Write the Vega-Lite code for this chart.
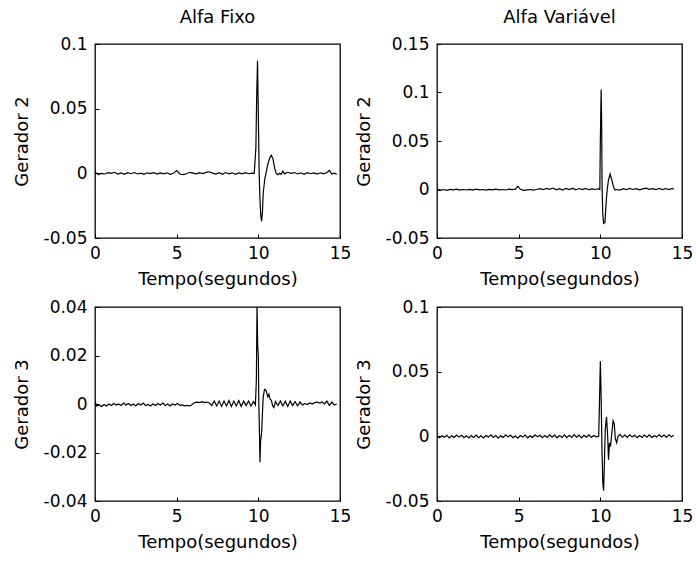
{
  "$schema": "https://vega.github.io/schema/vega-lite/v6.json",
  "background": "white",
  "padding": {"left": 12, "top": 8, "right": 5, "bottom": 5},
  "config": {
    "locale": {"number": {"decimal": ".", "thousands": ",", "grouping": [3], "currency": ["$", ""], "minus": "-"}},
    "view": {"stroke": "black", "strokeWidth": 1.3},
    "font": "DejaVu Sans",
    "axis": {"grid": false, "domain": false, "ticks": true, "tickColor": "black", "tickSize": -4, "labelFont": "DejaVu Sans", "labelFontSize": 17, "labelColor": "black", "titleFont": "DejaVu Sans", "titleFontSize": 18, "titleFontWeight": "normal", "titleColor": "black", "labelFlush": false, "labelOverlap": false, "format": ".6~g"},
    "axisX": {"labelPadding": 11.5, "titlePadding": 8.5},
    "axisY": {"labelPadding": 12, "titlePadding": 12},
    "title": {"font": "DejaVu Sans", "fontSize": 18, "fontWeight": "normal", "color": "black", "offset": 8, "anchor": "middle"}
  },
  "datasets": {
    "g2f": [
      {"t":0.0,"v":0.001},{"t":0.2,"v":-0.001},{"t":0.4,"v":0.0},{"t":0.6,"v":-0.0005},{"t":0.8,"v":0.0005},{"t":1.0,"v":0.0},{"t":1.2,"v":0.0008},{"t":1.4,"v":-0.0005},{"t":1.6,"v":0.0003},{"t":1.8,"v":-0.0008},{"t":2.0,"v":0.0005},{"t":2.2,"v":-0.0003},{"t":2.4,"v":0.0006},{"t":2.6,"v":-0.0005},{"t":2.8,"v":0.0002},{"t":3.0,"v":-0.0007},{"t":3.2,"v":0.0004},{"t":3.4,"v":-0.0002},{"t":3.6,"v":0.0005},{"t":3.8,"v":-0.0006},{"t":4.0,"v":0.0003},{"t":4.2,"v":-0.0004},{"t":4.4,"v":0.0004},{"t":4.6,"v":-0.0008},{"t":4.8,"v":0.0},{"t":5.0,"v":0.0022},{"t":5.2,"v":-0.0005},{"t":5.4,"v":-0.001},{"t":5.6,"v":-0.0003},{"t":5.8,"v":0.0008},{"t":6.0,"v":0.0002},{"t":6.2,"v":-0.0004},{"t":6.4,"v":0.0005},{"t":6.6,"v":-0.0002},{"t":6.8,"v":0.0007},{"t":7.0,"v":0.0012},{"t":7.2,"v":0.0002},{"t":7.4,"v":-0.0006},{"t":7.6,"v":0.0005},{"t":7.8,"v":-0.0008},{"t":8.0,"v":0.0006},{"t":8.2,"v":-0.0004},{"t":8.4,"v":0.0004},{"t":8.6,"v":-0.0007},{"t":8.8,"v":0.0003},{"t":9.0,"v":-0.0004},{"t":9.2,"v":0.0005},{"t":9.4,"v":-0.0003},{"t":9.6,"v":0.0002},{"t":9.75,"v":0.0},{"t":9.85,"v":0.02},{"t":9.9,"v":0.06},{"t":9.95,"v":0.087},{"t":10.0,"v":0.045},{"t":10.05,"v":0.0},{"t":10.1,"v":-0.02},{"t":10.15,"v":-0.033},{"t":10.2,"v":-0.037},{"t":10.25,"v":-0.03},{"t":10.3,"v":-0.015},{"t":10.4,"v":-0.004},{"t":10.5,"v":0.002},{"t":10.6,"v":0.008},{"t":10.7,"v":0.012},{"t":10.8,"v":0.014},{"t":10.9,"v":0.011},{"t":11.0,"v":0.004},{"t":11.1,"v":0.0},{"t":11.2,"v":-0.001},{"t":11.3,"v":0.0},{"t":11.4,"v":-0.0008},{"t":11.5,"v":0.0018},{"t":11.6,"v":-0.0004},{"t":11.8,"v":0.0008},{"t":12.0,"v":0.0},{"t":12.2,"v":0.0006},{"t":12.4,"v":-0.0005},{"t":12.6,"v":0.0004},{"t":12.8,"v":-0.0007},{"t":13.0,"v":0.0005},{"t":13.2,"v":-0.0003},{"t":13.4,"v":0.0003},{"t":13.6,"v":-0.0006},{"t":13.8,"v":0.0004},{"t":14.0,"v":-0.0004},{"t":14.2,"v":0.0006},{"t":14.35,"v":0.0022},{"t":14.5,"v":-0.0006},{"t":14.65,"v":0.0002},{"t":14.8,"v":-0.0006}
    ],
    "g2v": [
      {"t":0.0,"v":0.0005},{"t":0.2,"v":-0.0005},{"t":0.4,"v":0.0},{"t":0.6,"v":-0.0008},{"t":0.8,"v":0.0002},{"t":1.0,"v":-0.0004},{"t":1.2,"v":0.0003},{"t":1.4,"v":-0.0006},{"t":1.6,"v":0.0},{"t":1.8,"v":-0.0005},{"t":2.0,"v":0.0002},{"t":2.2,"v":-0.0006},{"t":2.4,"v":0.0003},{"t":2.6,"v":-0.0004},{"t":2.8,"v":0.0},{"t":3.0,"v":-0.0006},{"t":3.2,"v":0.0002},{"t":3.4,"v":-0.0004},{"t":3.6,"v":0.0004},{"t":3.8,"v":-0.0003},{"t":4.0,"v":0.0},{"t":4.2,"v":-0.0005},{"t":4.4,"v":0.0003},{"t":4.6,"v":-0.0002},{"t":4.8,"v":0.0004},{"t":4.95,"v":0.0035},{"t":5.1,"v":0.0002},{"t":5.3,"v":-0.0008},{"t":5.5,"v":-0.0004},{"t":5.7,"v":0.0},{"t":5.9,"v":-0.0006},{"t":6.1,"v":0.0},{"t":6.3,"v":0.0008},{"t":6.5,"v":-0.0002},{"t":6.7,"v":0.0012},{"t":6.9,"v":0.0002},{"t":7.1,"v":0.0015},{"t":7.3,"v":-0.0004},{"t":7.5,"v":0.0008},{"t":7.7,"v":-0.0006},{"t":7.9,"v":0.0012},{"t":8.1,"v":0.0},{"t":8.3,"v":0.0014},{"t":8.5,"v":-0.0004},{"t":8.7,"v":0.001},{"t":8.9,"v":0.0},{"t":9.1,"v":0.0012},{"t":9.3,"v":-0.0002},{"t":9.5,"v":0.0006},{"t":9.7,"v":0.0},{"t":9.9,"v":0.0008},{"t":9.97,"v":0.0},{"t":10.0,"v":0.05},{"t":10.05,"v":0.103},{"t":10.08,"v":0.07},{"t":10.11,"v":0.0},{"t":10.15,"v":-0.025},{"t":10.2,"v":-0.035},{"t":10.28,"v":-0.034},{"t":10.35,"v":-0.015},{"t":10.42,"v":0.0},{"t":10.5,"v":0.01},{"t":10.6,"v":0.016},{"t":10.7,"v":0.01},{"t":10.8,"v":0.003},{"t":10.9,"v":-0.0005},{"t":11.0,"v":0.0},{"t":11.2,"v":-0.0006},{"t":11.4,"v":0.0008},{"t":11.6,"v":-0.0002},{"t":11.8,"v":0.0012},{"t":12.0,"v":0.0},{"t":12.2,"v":0.0008},{"t":12.4,"v":-0.0004},{"t":12.6,"v":0.0006},{"t":12.8,"v":0.0014},{"t":13.0,"v":0.0002},{"t":13.2,"v":0.0008},{"t":13.4,"v":-0.0002},{"t":13.6,"v":0.0012},{"t":13.8,"v":0.0},{"t":14.0,"v":0.001},{"t":14.2,"v":0.0},{"t":14.4,"v":0.0012},{"t":14.5,"v":0.0002}
    ],
    "g3f": [
      {"t":0.0,"v":0.0012},{"t":0.1,"v":-0.0008},{"t":0.25,"v":-0.0004},{"t":0.4,"v":-0.001},{"t":0.55,"v":-0.0002},{"t":0.7,"v":-0.0008},{"t":0.85,"v":0.0},{"t":1.0,"v":-0.0006},{"t":1.15,"v":0.0002},{"t":1.3,"v":-0.0004},{"t":1.45,"v":0.0},{"t":1.6,"v":-0.0006},{"t":1.75,"v":0.0004},{"t":1.9,"v":-0.0004},{"t":2.05,"v":0.0002},{"t":2.2,"v":-0.0006},{"t":2.35,"v":0.0},{"t":2.5,"v":-0.0008},{"t":2.65,"v":0.0002},{"t":2.8,"v":-0.0004},{"t":2.95,"v":0.0004},{"t":3.1,"v":-0.0006},{"t":3.25,"v":-0.0002},{"t":3.4,"v":-0.0008},{"t":3.55,"v":0.0},{"t":3.7,"v":-0.0006},{"t":3.85,"v":0.0002},{"t":4.0,"v":-0.0004},{"t":4.15,"v":0.0004},{"t":4.3,"v":-0.0006},{"t":4.45,"v":0.0},{"t":4.6,"v":-0.0008},{"t":4.75,"v":0.0},{"t":4.9,"v":-0.0004},{"t":5.05,"v":0.0002},{"t":5.2,"v":-0.0006},{"t":5.35,"v":-0.0004},{"t":5.5,"v":-0.0008},{"t":5.65,"v":-0.0006},{"t":5.8,"v":-0.0008},{"t":5.95,"v":-0.0002},{"t":6.1,"v":0.0006},{"t":6.25,"v":0.0008},{"t":6.4,"v":0.0006},{"t":6.55,"v":0.001},{"t":6.7,"v":0.0006},{"t":6.85,"v":0.0008},{"t":7.0,"v":0.0004},{"t":7.15,"v":-0.0006},{"t":7.3,"v":0.0012},{"t":7.45,"v":-0.0008},{"t":7.6,"v":0.0012},{"t":7.75,"v":-0.001},{"t":7.9,"v":0.0012},{"t":8.05,"v":-0.0008},{"t":8.2,"v":0.0014},{"t":8.35,"v":-0.001},{"t":8.5,"v":0.0012},{"t":8.65,"v":-0.0008},{"t":8.8,"v":0.0014},{"t":8.95,"v":-0.001},{"t":9.1,"v":0.0012},{"t":9.25,"v":-0.0006},{"t":9.4,"v":0.0012},{"t":9.55,"v":-0.0008},{"t":9.7,"v":0.001},{"t":9.82,"v":-0.0004},{"t":9.88,"v":0.01},{"t":9.92,"v":0.041},{"t":9.96,"v":0.024},{"t":10.0,"v":0.02},{"t":10.03,"v":0.0},{"t":10.07,"v":-0.012},{"t":10.1,"v":-0.024},{"t":10.14,"v":-0.015},{"t":10.2,"v":-0.012},{"t":10.25,"v":-0.004},{"t":10.3,"v":0.003},{"t":10.38,"v":0.006},{"t":10.45,"v":0.0058},{"t":10.5,"v":0.005},{"t":10.58,"v":0.003},{"t":10.65,"v":0.004},{"t":10.72,"v":0.002},{"t":10.8,"v":0.0015},{"t":10.88,"v":-0.0008},{"t":10.95,"v":-0.0015},{"t":11.05,"v":0.001},{"t":11.2,"v":-0.0006},{"t":11.35,"v":0.0012},{"t":11.5,"v":-0.0008},{"t":11.65,"v":0.0012},{"t":11.8,"v":-0.001},{"t":11.95,"v":0.0012},{"t":12.1,"v":-0.0006},{"t":12.25,"v":0.001},{"t":12.4,"v":-0.0008},{"t":12.55,"v":0.0008},{"t":12.7,"v":-0.0004},{"t":12.85,"v":0.0002},{"t":13.0,"v":-0.0002},{"t":13.15,"v":0.0004},{"t":13.3,"v":0.0},{"t":13.45,"v":0.0006},{"t":13.6,"v":0.0008},{"t":13.75,"v":0.0004},{"t":13.9,"v":0.0008},{"t":14.05,"v":0.0},{"t":14.2,"v":0.0012},{"t":14.35,"v":-0.0006},{"t":14.5,"v":0.0008},{"t":14.65,"v":-0.0004},{"t":14.8,"v":0.0}
    ],
    "g3v": [
      {"t":0.0,"v":0.0005},{"t":0.15,"v":-0.001},{"t":0.3,"v":0.0005},{"t":0.45,"v":-0.0008},{"t":0.6,"v":0.0008},{"t":0.75,"v":-0.0012},{"t":0.9,"v":0.0004},{"t":1.05,"v":-0.0008},{"t":1.2,"v":0.001},{"t":1.35,"v":-0.0006},{"t":1.5,"v":0.0008},{"t":1.65,"v":-0.001},{"t":1.8,"v":0.0004},{"t":1.95,"v":-0.0012},{"t":2.1,"v":0.0006},{"t":2.25,"v":-0.0008},{"t":2.4,"v":0.001},{"t":2.55,"v":-0.001},{"t":2.7,"v":0.0004},{"t":2.85,"v":-0.0012},{"t":3.0,"v":0.0006},{"t":3.15,"v":-0.0006},{"t":3.3,"v":0.0012},{"t":3.45,"v":-0.0008},{"t":3.6,"v":0.0006},{"t":3.75,"v":-0.0014},{"t":3.9,"v":0.0004},{"t":4.05,"v":-0.0008},{"t":4.2,"v":0.0012},{"t":4.35,"v":-0.0004},{"t":4.5,"v":0.0008},{"t":4.65,"v":-0.001},{"t":4.8,"v":0.0002},{"t":4.95,"v":-0.0014},{"t":5.1,"v":0.0006},{"t":5.25,"v":-0.0006},{"t":5.4,"v":0.001},{"t":5.55,"v":-0.0012},{"t":5.7,"v":0.0004},{"t":5.85,"v":-0.0008},{"t":6.0,"v":0.0012},{"t":6.15,"v":-0.0004},{"t":6.3,"v":0.0008},{"t":6.45,"v":-0.001},{"t":6.6,"v":0.0006},{"t":6.75,"v":-0.0008},{"t":6.9,"v":0.0012},{"t":7.05,"v":-0.0006},{"t":7.2,"v":0.001},{"t":7.35,"v":-0.0012},{"t":7.5,"v":0.0006},{"t":7.65,"v":-0.0008},{"t":7.8,"v":0.0012},{"t":7.95,"v":-0.001},{"t":8.1,"v":0.0008},{"t":8.25,"v":-0.0008},{"t":8.4,"v":0.0014},{"t":8.55,"v":-0.0006},{"t":8.7,"v":0.001},{"t":8.85,"v":-0.0012},{"t":9.0,"v":0.0008},{"t":9.15,"v":-0.0006},{"t":9.3,"v":0.0012},{"t":9.45,"v":-0.0008},{"t":9.6,"v":0.0006},{"t":9.75,"v":-0.0004},{"t":9.9,"v":0.0},{"t":9.95,"v":0.027},{"t":10.0,"v":0.058},{"t":10.05,"v":0.03},{"t":10.1,"v":-0.01},{"t":10.15,"v":-0.035},{"t":10.2,"v":-0.042},{"t":10.25,"v":-0.02},{"t":10.3,"v":0.005},{"t":10.38,"v":0.015},{"t":10.45,"v":0.0},{"t":10.5,"v":-0.018},{"t":10.56,"v":-0.005},{"t":10.62,"v":-0.008},{"t":10.7,"v":0.002},{"t":10.78,"v":0.012},{"t":10.85,"v":0.01},{"t":10.92,"v":-0.002},{"t":11.0,"v":-0.005},{"t":11.08,"v":0.0},{"t":11.2,"v":0.0015},{"t":11.35,"v":-0.0006},{"t":11.5,"v":0.001},{"t":11.65,"v":-0.0008},{"t":11.8,"v":0.0012},{"t":11.95,"v":-0.0004},{"t":12.1,"v":0.0008},{"t":12.25,"v":-0.001},{"t":12.4,"v":0.0006},{"t":12.55,"v":-0.0008},{"t":12.7,"v":0.001},{"t":12.85,"v":-0.0006},{"t":13.0,"v":0.0012},{"t":13.15,"v":-0.0008},{"t":13.3,"v":0.0004},{"t":13.45,"v":-0.0006},{"t":13.6,"v":0.0014},{"t":13.75,"v":-0.0004},{"t":13.9,"v":0.001},{"t":14.05,"v":-0.0008},{"t":14.2,"v":0.0012},{"t":14.35,"v":-0.0004},{"t":14.5,"v":0.0008}
    ]
  },
  "columns": 2,
  "spacing": {"row": 69, "column": 97},
  "bounds": "flush",
  "concat": [
    {
      "title": {"text": "Alfa Fixo"},
      "width": 245, "height": 194,
      "data": {"name": "g2f"},
      "mark": {"type": "line", "color": "black", "strokeWidth": 1.2, "clip": true},
      "encoding": {
        "x": {"field": "t", "type": "quantitative", "scale": {"domain": [0, 15], "nice": false}, "axis": {"values": [0, 5, 10, 15], "title": "Tempo(segundos)"}},
        "y": {"field": "v", "type": "quantitative", "scale": {"domain": [-0.05, 0.1], "nice": false, "zero": false}, "axis": {"values": [-0.05, 0, 0.05, 0.1], "title": "Gerador 2"}}
      }
    },
    {
      "title": {"text": "Alfa Variável"},
      "width": 245, "height": 194,
      "data": {"name": "g2v"},
      "mark": {"type": "line", "color": "black", "strokeWidth": 1.2, "clip": true},
      "encoding": {
        "x": {"field": "t", "type": "quantitative", "scale": {"domain": [0, 15], "nice": false}, "axis": {"values": [0, 5, 10, 15], "title": "Tempo(segundos)"}},
        "y": {"field": "v", "type": "quantitative", "scale": {"domain": [-0.05, 0.15], "nice": false, "zero": false}, "axis": {"values": [-0.05, 0, 0.05, 0.1, 0.15], "title": "Gerador 2"}}
      }
    },
    {
      "width": 245, "height": 194,
      "data": {"name": "g3f"},
      "mark": {"type": "line", "color": "black", "strokeWidth": 1.2, "clip": true},
      "encoding": {
        "x": {"field": "t", "type": "quantitative", "scale": {"domain": [0, 15], "nice": false}, "axis": {"values": [0, 5, 10, 15], "title": "Tempo(segundos)"}},
        "y": {"field": "v", "type": "quantitative", "scale": {"domain": [-0.04, 0.04], "nice": false, "zero": false}, "axis": {"values": [-0.04, -0.02, 0, 0.02, 0.04], "title": "Gerador 3"}}
      }
    },
    {
      "width": 245, "height": 194,
      "data": {"name": "g3v"},
      "mark": {"type": "line", "color": "black", "strokeWidth": 1.2, "clip": true},
      "encoding": {
        "x": {"field": "t", "type": "quantitative", "scale": {"domain": [0, 15], "nice": false}, "axis": {"values": [0, 5, 10, 15], "title": "Tempo(segundos)"}},
        "y": {"field": "v", "type": "quantitative", "scale": {"domain": [-0.05, 0.1], "nice": false, "zero": false}, "axis": {"values": [-0.05, 0, 0.05, 0.1], "title": "Gerador 3"}}
      }
    }
  ]
}
